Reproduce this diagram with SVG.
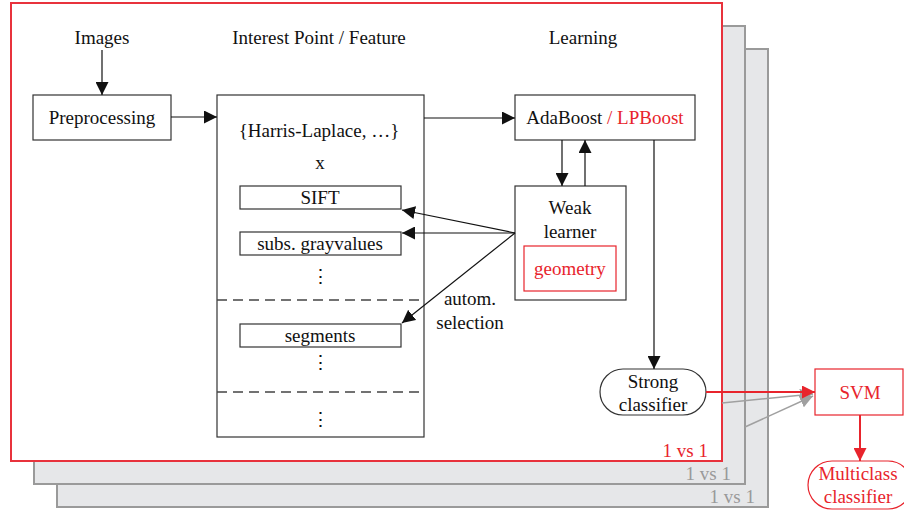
<svg xmlns="http://www.w3.org/2000/svg" width="904" height="510" viewBox="0 0 904 510">
<defs>
<style>
text{font-family:"Liberation Serif","Times New Roman",serif;font-size:19px;fill:#111;text-anchor:middle;dominant-baseline:central}
.box{fill:#fff;stroke:#333;stroke-width:1.2}
.red{fill:#e8242c}
.rbox{fill:#fff;stroke:#e8242c;stroke-width:1.2}
.grey{fill:#999}
.ln{stroke:#111;stroke-width:1.2;fill:none}
.dash{stroke:#444;stroke-width:1.5;stroke-dasharray:10,6;fill:none}
.panel{fill:#e6e7e9;stroke:#9a9a9a;stroke-width:2}
</style>
<marker id="ab" viewBox="0 0 10 10" refX="10" refY="5" markerWidth="13" markerHeight="13" markerUnits="userSpaceOnUse" orient="auto"><path d="M0,0L10,5L0,10z" fill="#111"/></marker>
<marker id="ar" viewBox="0 0 10 10" refX="10" refY="5" markerWidth="13" markerHeight="13" markerUnits="userSpaceOnUse" orient="auto"><path d="M0,0L10,5L0,10z" fill="#e8242c"/></marker>
<marker id="ag" viewBox="0 0 10 10" refX="10" refY="5" markerWidth="13" markerHeight="13" markerUnits="userSpaceOnUse" orient="auto"><path d="M0,0L10,5L0,10z" fill="#a0a0a0"/></marker>
</defs>
<g id="panels">
<rect class="panel" x="57" y="49" width="711" height="458"/>
<rect class="panel" x="34" y="26" width="711" height="458"/>
<rect x="11" y="3" width="711" height="458" fill="#fff" stroke="#e8323c" stroke-width="2"/>
<text class="grey" x="755" y="496" style="text-anchor:end">1 vs 1</text>
<text class="grey" x="731" y="473" style="text-anchor:end">1 vs 1</text>
<text class="red" x="708" y="450" style="text-anchor:end">1 vs 1</text>
</g>
<g id="headers">
<text x="102" y="37">Images</text>
<text x="319" y="37">Interest Point / Feature</text>
<text x="583" y="37">Learning</text>
</g>
<g id="preprocessing">
<rect class="box" x="33" y="95" width="138" height="45"/>
<text x="102" y="117">Preprocessing</text>
</g>
<g id="features">
<rect class="box" x="217" y="95" width="207" height="342"/>
<text x="319" y="130">{Harris-Laplace, …}</text>
<text x="320" y="162">x</text>
<line class="dash" x1="217" y1="300" x2="424" y2="300"/>
<line class="dash" x1="217" y1="392" x2="424" y2="392"/>
<text x="320" y="276">⋮</text>
<text x="320" y="362">⋮</text>
<text x="320" y="419">⋮</text>
</g>
<g id="sift">
<rect class="box" x="240" y="186" width="161" height="23"/>
<text x="320" y="197">SIFT</text>
</g>
<g id="gray">
<rect class="box" x="240" y="232" width="161" height="23"/>
<text x="320" y="243">subs. grayvalues</text>
</g>
<g id="segments">
<rect class="box" x="240" y="324" width="161" height="23"/>
<text x="320" y="335">segments</text>
</g>
<g id="adaboost">
<rect class="box" x="515" y="95" width="180" height="45"/>
<text x="605" y="117"><tspan>AdaBoost</tspan><tspan class="red"> / LPBoost</tspan></text>
</g>
<g id="weak">
<rect class="box" x="515" y="186" width="111" height="114"/>
<text x="570" y="207">Weak</text>
<text x="570" y="231">learner</text>
<rect class="rbox" x="524" y="246" width="92" height="45"/>
<text class="red" x="570" y="268">geometry</text>
</g>
<g id="strong">
<rect class="box" x="600" y="369" width="106" height="46" rx="23" ry="23"/>
<text x="653" y="381">Strong</text>
<text x="653" y="404">classifier</text>
</g>
<g id="svm">
<rect class="rbox" x="815" y="369" width="88" height="46"/>
<text class="red" x="860" y="392">SVM</text>
</g>
<g id="multiclass">
<rect class="rbox" x="808" y="461" width="104" height="48" rx="24" ry="24"/>
<text class="red" x="858" y="473">Multiclass</text>
<text class="red" x="858" y="496">classifier</text>
</g>
<g id="labels">
<text x="470" y="298">autom.</text>
<text x="470" y="322">selection</text>
</g>
<g id="connectors">
<line class="ln" x1="102" y1="50" x2="102" y2="95" marker-end="url(#ab)"/>
<line class="ln" x1="171" y1="117" x2="217" y2="117" marker-end="url(#ab)"/>
<line class="ln" x1="424" y1="118" x2="515" y2="118" marker-end="url(#ab)"/>
<line class="ln" x1="562" y1="140" x2="562" y2="186" marker-end="url(#ab)"/>
<line class="ln" x1="585" y1="186" x2="585" y2="140" marker-end="url(#ab)"/>
<line class="ln" x1="515" y1="233" x2="402" y2="210" marker-end="url(#ab)"/>
<line class="ln" x1="515" y1="233" x2="402" y2="233" marker-end="url(#ab)"/>
<line class="ln" x1="515" y1="233" x2="402" y2="323" marker-end="url(#ab)"/>
<line class="ln" x1="654" y1="140" x2="654" y2="369" marker-end="url(#ab)"/>
<line x1="722" y1="403" x2="813" y2="394" stroke="#a0a0a0" stroke-width="1.5" marker-end="url(#ag)"/>
<line x1="745" y1="427" x2="813" y2="396" stroke="#a0a0a0" stroke-width="1.5" marker-end="url(#ag)"/>
<line x1="706" y1="392" x2="815" y2="392" stroke="#e8242c" stroke-width="2" marker-end="url(#ar)"/>
<line x1="860" y1="415" x2="860" y2="461" stroke="#e8242c" stroke-width="2" marker-end="url(#ar)"/>
</g>
</svg>
